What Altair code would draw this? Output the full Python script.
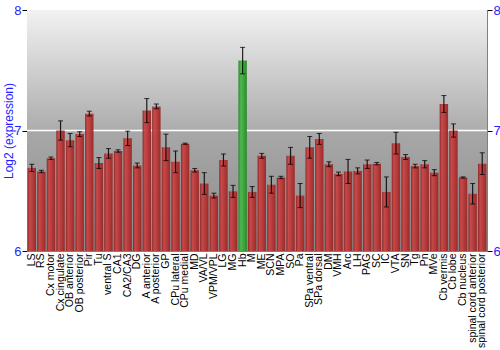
import altair as alt
import pandas as pd

categories = ["LS", "RS", "Cx motor", "Cx cingulate", "OB anterior", "OB posterior", "Pir", "Tu",
              "ventral S", "CA1", "CA2/CA3", "DG", "A anterior", "A posterior", "GP", "CPu lateral",
              "CPu medial", "MD", "VA/VL", "VPM/VPL", "LG", "MG", "Hb", "M", "ME", "SCN", "MPA",
              "SO", "Pa", "SPa ventral", "SPa dorsal", "DM", "VMH", "Arc", "LH", "PAG", "SC", "IC",
              "VTA", "SN", "Tg", "Pn", "MVe", "Cb vermis", "Cb lobe", "Cb nucleus",
              "spinal cord anterior", "spinal cord posterior"]
values = [6.69, 6.66, 6.77, 7.00, 6.92, 6.97, 7.14, 6.73,
          6.81, 6.83, 6.935, 6.71, 7.165, 7.20, 6.86, 6.74,
          6.89, 6.67, 6.56, 6.46, 6.755, 6.495, 7.58, 6.49, 6.79, 6.55, 6.61,
          6.79, 6.46, 6.86, 6.93, 6.72, 6.64, 6.66, 6.665, 6.72, 6.725, 6.49,
          6.895, 6.78, 6.705, 6.72, 6.65, 7.22, 7.00, 6.61,
          6.475, 6.725]
errors = [0.03, 0.01, 0.01, 0.08, 0.055, 0.02, 0.02, 0.045,
          0.04, 0.01, 0.06, 0.02, 0.10, 0.02, 0.11, 0.09,
          0.005, 0.015, 0.09, 0.02, 0.05, 0.05, 0.11, 0.045, 0.02, 0.07, 0.01,
          0.07, 0.10, 0.09, 0.045, 0.02, 0.015, 0.10, 0.025, 0.035, 0.01, 0.125,
          0.09, 0.02, 0.015, 0.03, 0.025, 0.07, 0.055, 0.005,
          0.085, 0.09]
highlight = "Hb"
y_min, y_max = 6, 8
tick_values = [6.0, 7.0, 8.0]
grid_values = [7]

df = pd.DataFrame({"cat": categories, "val": values, "err": errors})
df["lo"] = df["val"] - df["err"]
df["hi"] = df["val"] + df["err"]
df["base"] = y_min

W, H = 460, 241
yscale = alt.Scale(domain=[y_min, y_max], nice=False, zero=False)
xscale = alt.Scale(domain=categories, paddingInner=0.12, paddingOuter=0.06)
blue = "#1f1fff"
FONT = "Liberation Sans"

bands = pd.DataFrame({"lo": [7, 6], "hi": [8, 7], "band": ["upper", "lower"]})

upper_grad = alt.Gradient(gradient="linear", x1=0, x2=0, y1=0, y2=1,
                          stops=[alt.GradientStop(color="#f2f2f2", offset=0),
                                 alt.GradientStop(color="#acacac", offset=1)])
lower_grad = alt.Gradient(gradient="linear", x1=0, x2=0, y1=0, y2=1,
                          stops=[alt.GradientStop(color="#a8a8a8", offset=0),
                                 alt.GradientStop(color="#8a8a8a", offset=1)])
red_grad = alt.Gradient(gradient="linear", x1=0, x2=1, y1=0, y2=0,
                        stops=[alt.GradientStop(color="#8e2222", offset=0),
                               alt.GradientStop(color="#c84646", offset=0.25),
                               alt.GradientStop(color="#b83636", offset=0.6),
                               alt.GradientStop(color="#962626", offset=1)])
green_grad = alt.Gradient(gradient="linear", x1=0, x2=1, y1=0, y2=0,
                          stops=[alt.GradientStop(color="#2a8a2a", offset=0),
                                 alt.GradientStop(color="#50b850", offset=0.3),
                                 alt.GradientStop(color="#3aa03a", offset=0.7),
                                 alt.GradientStop(color="#2a882a", offset=1)])

label_expr = "'' + round(datum.value)"

left_axis = alt.Axis(values=tick_values, orient="left", title="Log2 (expression)",
                     labelExpr=label_expr,
                     titleColor=blue, titleFontSize=12, titleFontWeight="normal",
                     titleFont=FONT, titleX=-19, titleY=H / 2, titleAngle=270,
                     titleAlign="center", titleBaseline="middle",
                     labelColor=blue, labelFontSize=13, labelFont=FONT, labelOverlap=False,
                     tickColor="black", tickSize=5, domainColor="#808080", grid=False,
                     labelPadding=1)
right_axis = alt.Axis(values=tick_values, orient="right", title=None,
                      labelExpr=label_expr,
                      labelColor=blue, labelFontSize=13, labelFont=FONT, labelOverlap=False,
                      tickColor="black", tickSize=5, domainColor="#808080", grid=False,
                      labelPadding=1)
x_axis = alt.Axis(title=None, labelAngle=-90, labelFontSize=10.5, labelFont=FONT,
                  labelColor="black", ticks=False, domain=False, labelPadding=2, labelAlign="right",
                  labelBaseline="middle")

bg_up = alt.Chart(bands).transform_filter(alt.datum.band == "upper").mark_rect(
    fill=upper_grad).encode(
    x=alt.value(0), x2=alt.value(W),
    y=alt.Y("lo:Q", scale=yscale, axis=left_axis), y2="hi:Q")
bg_low = alt.Chart(bands).transform_filter(alt.datum.band == "lower").mark_rect(
    fill=lower_grad).encode(
    x=alt.value(0), x2=alt.value(W),
    y=alt.Y("lo:Q", scale=yscale, axis=None), y2="hi:Q")

grid = alt.Chart(pd.DataFrame({"g": grid_values})).mark_rule(color="white", strokeWidth=1.5).encode(
    y=alt.Y("g:Q", scale=yscale, axis=None))

bars_red = alt.Chart(df).transform_filter(alt.datum.cat != highlight).mark_bar(
    fill=red_grad, opacity=0.95).encode(
    x=alt.X("cat:N", scale=xscale, axis=x_axis, sort=categories),
    y=alt.Y("val:Q", scale=yscale, axis=None), y2="base:Q")
bars_green = alt.Chart(df).transform_filter(alt.datum.cat == highlight).mark_bar(
    fill=green_grad).encode(
    x=alt.X("cat:N", scale=xscale, axis=x_axis, sort=categories),
    y=alt.Y("val:Q", scale=yscale, axis=None), y2="base:Q")

err_rule = alt.Chart(df).mark_rule(color="black", strokeWidth=1.2, opacity=0.85).encode(
    x=alt.X("cat:N", scale=xscale, axis=x_axis, sort=categories),
    y=alt.Y("lo:Q", scale=yscale, axis=right_axis), y2="hi:Q")
cap_lo = alt.Chart(df).mark_tick(color="black", size=5, thickness=1, opacity=0.75).encode(
    x=alt.X("cat:N", scale=xscale, axis=x_axis, sort=categories),
    y=alt.Y("lo:Q", scale=yscale, axis=None))
cap_hi = alt.Chart(df).mark_tick(color="black", size=5, thickness=1, opacity=0.75).encode(
    x=alt.X("cat:N", scale=xscale, axis=x_axis, sort=categories),
    y=alt.Y("hi:Q", scale=yscale, axis=None))

chart = alt.layer(bg_up, bg_low, grid, bars_red, bars_green, err_rule, cap_lo, cap_hi).resolve_axis(
    y="independent").properties(
    width=W, height=H,
    autosize=alt.AutoSizeParams(type="none"),
    padding={"left": 27, "top": 10, "right": 13, "bottom": 99},
    background="white",
).configure_view(stroke="#808080", strokeWidth=1)

chart.save("out.html", embed_options={"renderer": "svg", "actions": False})
